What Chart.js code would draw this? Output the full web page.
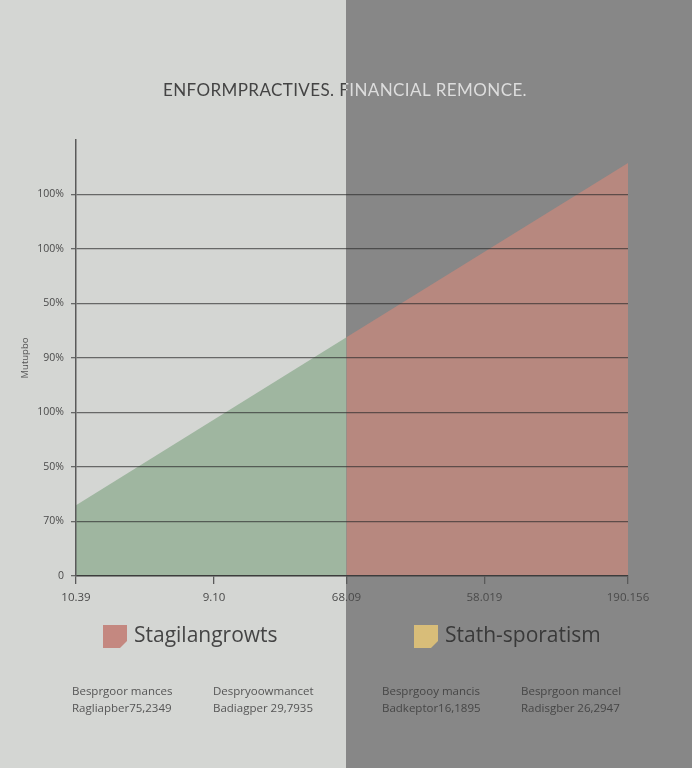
<!DOCTYPE html>
<html>
<head>
<meta charset="utf-8">
<script src="https://cdn.jsdelivr.net/npm/chart.js@4.4.1/dist/chart.umd.min.js"></script>
<style>
  html, body { margin: 0; padding: 0; background: #d4d6d3; }
  #wrap { width: 692px; height: 768px; }
</style>
</head>
<body>
<div id="wrap"><canvas id="myChart" width="692" height="768"></canvas></div>
<script>
const ctx = document.getElementById('myChart');

// datos
const xLabels = ['10.39', '9.10', '68.09', '58.019', '190.156'];
const xPositions = [0, 1, 1.96, 2.96, 4];
const yLabels = ['0', '70%', '50%', '100%', '90%', '50%', '100%', '100%'];
const greenSerie = [{ x: 0, y: 1.3 }, { x: 1.96, y: 4.38 }];
const redSerie = [{ x: 1.96, y: 4.38 }, { x: 4, y: 7.58 }];
const legendNames = ['Stagilangrowts', 'Stath-sporatism'];
const footerTop = ['Besprgoor mances', 'Despryoowmancet', 'Besprgooy mancis', 'Besprgoon mancel'];
const footerBottom = ['Ragliapber75,2349', 'Badiagper 29,7935', 'Badkeptor16,1895', 'Radisgber 26,2947'];

const titleText = 'ENFORMPRACTIVES. FINANCIAL REMONCE.';
const LIGHT = '#d4d6d3';
const DARK = '#878787';

function splitX(chart) {
    return Math.round(chart.scales.x.getPixelForValue(xPositions[2]));
}

const fondo = {
    id: 'fondo',
    beforeDraw(chart) {
        const c = chart.ctx;
        const sx = splitX(chart);
        c.save();
        c.fillStyle = LIGHT;
        c.fillRect(0, 0, sx, chart.height);
        c.fillStyle = DARK;
        c.fillRect(sx, 0, chart.width - sx, chart.height);
        c.restore();
    }
};

// texto que cambia de color segun el lado del fondo
function textoPartido(c, sx, draw, colorIzq, colorDer, w, h) {
    c.save();
    c.beginPath(); c.rect(0, 0, sx, h); c.clip();
    c.fillStyle = colorIzq; draw();
    c.restore();
    c.save();
    c.beginPath(); c.rect(sx, 0, w - sx, h); c.clip();
    c.fillStyle = colorDer; draw();
    c.restore();
}

const extras = {
    id: 'extras',
    afterDraw(chart) {
        const c = chart.ctx;
        const sx = splitX(chart);
        const w = chart.width, h = chart.height;

        // titulo
        c.save();
        c.font = "17px Lato";
        c.letterSpacing = '0.4px';
        c.textBaseline = 'middle';
        c.textAlign = 'center';
        textoPartido(c, sx, () => c.fillText(titleText, 345, 91), '#444444', '#dddddd', w, h);
        c.restore();

        // leyenda
        const boxes = [{ x: 103, color: '#c48880' }, { x: 414, color: '#d8bd79' }];
        boxes.forEach((b, i) => {
            c.save();
            c.fillStyle = b.color;
            c.beginPath();
            c.moveTo(b.x, 625);
            c.lineTo(b.x + 24, 625);
            c.lineTo(b.x + 24, 641);
            c.lineTo(b.x + 17, 648);
            c.lineTo(b.x, 648);
            c.closePath();
            c.fill();
            c.font = "21px 'Open Sans'";
            c.textBaseline = 'middle';
            c.fillStyle = i === 0 ? '#454545' : '#393939';
            c.fillText(legendNames[i], b.x + 31, 636);
            c.restore();
        });

        // pie de pagina
        const cols = [72, 213, 382, 521];
        c.save();
        c.font = "11.5px 'Open Sans'";
        c.textBaseline = 'middle';
        cols.forEach((x, i) => {
            c.fillStyle = i < 2 ? '#555555' : '#464646';
            c.fillText(footerTop[i], x, 692);
            c.fillText(footerBottom[i], x, 709);
        });
        c.restore();
    }
};

const configurar = {
    type: 'line',
    data: {
        datasets: [
            {
                label: legendNames[0],
                data: greenSerie,
                borderWidth: 0,
                pointRadius: 0,
                fill: 'origin',
                backgroundColor: '#9fb6a0',
                order: 2
            },
            {
                label: legendNames[1],
                data: redSerie,
                borderWidth: 0,
                pointRadius: 0,
                fill: 'origin',
                backgroundColor: '#b7887f',
                order: 1
            }
        ]
    },
    options: {
        responsive: false,
        animation: false,
        devicePixelRatio: 1,
        layout: { padding: { top: 140, right: 64, left: 0, bottom: 0 } },
        plugins: {
            legend: { display: false },
            tooltip: { enabled: false }
        },
        scales: {
            x: {
                type: 'linear',
                min: 0,
                max: 4,
                afterBuildTicks: axis => { axis.ticks = xPositions.map(v => ({ value: v })); },
                afterFit: s => { s.height = 192; },
                grid: { drawOnChartArea: false, drawTicks: true, tickLength: 8, color: '#5a5a5a', lineWidth: 1.3, z: 1 },
                border: { color: '#5a5a5a', width: 1.5, z: 1 },
                ticks: {
                    autoSkip: false,
                    maxRotation: 0,
                    padding: 7,
                    color: '#4a4a4a',
                    font: { family: "'Open Sans'", size: 11.5 },
                    callback: (v, i) => xLabels[i]
                }
            },
            y: {
                min: 0,
                max: 8,
                afterFit: s => { s.width = 76; },
                grid: {
                    color: c => c.index === 8 ? 'rgba(0,0,0,0)' : 'rgba(45,45,45,0.65)',
                    lineWidth: 1.3,
                    tickLength: 5,
                    z: 1
                },
                border: { color: '#5a5a5a', width: 1.5, z: 1 },
                ticks: {
                    stepSize: 1,
                    padding: 7,
                    color: '#4a4a4a',
                    font: { family: "'Open Sans'", size: 10.5 },
                    callback: (v, i) => (i < yLabels.length ? yLabels[i] : '')
                },
                title: {
                    display: true,
                    text: 'Mutupbo',
                    color: '#555555',
                    font: { family: "'Open Sans'", size: 9.5 },
                    padding: { top: 20, bottom: 0 }
                }
            }
        }
    },
    plugins: [fondo, extras]
};

const myChart = new Chart(ctx, configurar);
</script>
</body>
</html>
